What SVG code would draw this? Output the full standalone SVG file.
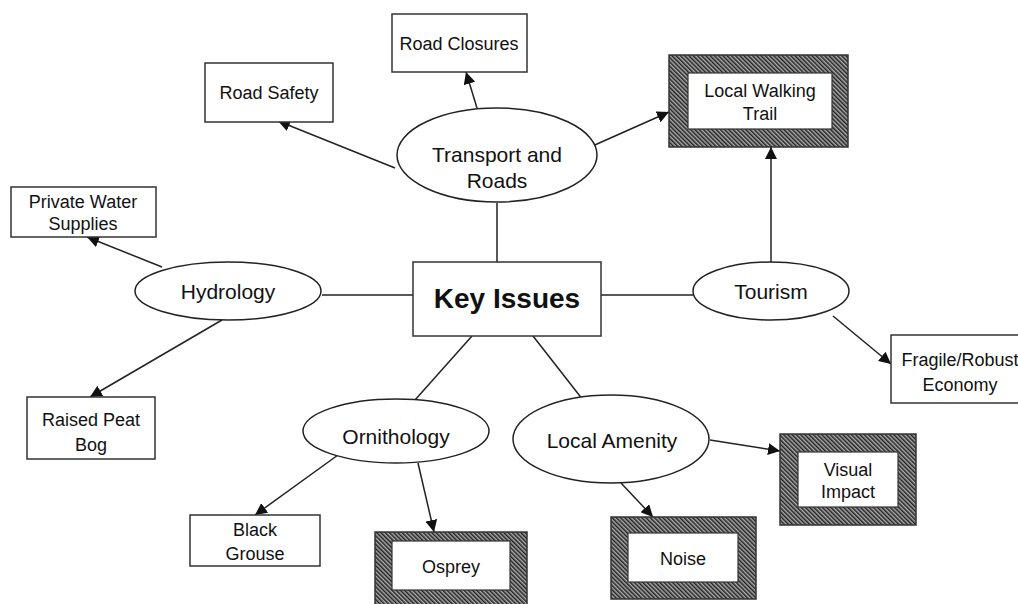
<svg xmlns="http://www.w3.org/2000/svg" width="1018" height="604" viewBox="0 0 1018 604">
<style>
.box{fill:#fff;stroke:#333;stroke-width:1.5}
.ell{fill:#fff;stroke:#222;stroke-width:1.5}
.hatch{fill:url(#hatch);stroke:#333;stroke-width:1.5}
.inner{fill:#fff;stroke:#333;stroke-width:1.2}
.t{font-family:"Liberation Sans",Arial,sans-serif;font-size:18px;fill:#111;text-anchor:middle}
.e{font-family:"Liberation Sans",Arial,sans-serif;font-size:21px;fill:#111;text-anchor:middle}
.k{font-family:"Liberation Sans",Arial,sans-serif;font-size:28px;font-weight:bold;fill:#111;text-anchor:middle}
.c{stroke:#222;stroke-width:1.5;fill:none}
.a{marker-end:url(#arr)}
</style>
<defs>
<pattern id="hatch" width="3" height="3" patternUnits="userSpaceOnUse" patternTransform="rotate(-45)">
<rect width="3" height="3" fill="#aaa"/>
<rect width="1.5" height="3" fill="#222"/>
</pattern>
<marker id="arr" viewBox="0 0 10 10" refX="10" refY="5" markerWidth="12" markerHeight="12" markerUnits="userSpaceOnUse" orient="auto">
<path d="M0,0 L10,5 L0,10 z" fill="#111"/>
</marker>
</defs>
<rect width="1018" height="604" fill="#fff"/>
<g id="connectors">
<line class="c" x1="497" y1="203" x2="497" y2="262"/>
<line class="c" x1="322" y1="295" x2="413" y2="295"/>
<line class="c" x1="601" y1="295" x2="693" y2="295"/>
<line class="c" x1="472" y1="336" x2="415" y2="400"/>
<line class="c" x1="533" y1="336" x2="583" y2="400"/>
<line class="c a" x1="395" y1="168" x2="278" y2="121"/>
<line class="c a" x1="477" y1="108" x2="466" y2="72"/>
<line class="c a" x1="588" y1="148" x2="669" y2="112"/>
<line class="c a" x1="162" y1="267" x2="87" y2="237"/>
<line class="c a" x1="222" y1="320" x2="90" y2="397"/>
<line class="c a" x1="771" y1="262" x2="771" y2="147"/>
<line class="c a" x1="833" y1="316" x2="891" y2="364"/>
<line class="c a" x1="338" y1="455" x2="255" y2="515"/>
<line class="c a" x1="418" y1="463" x2="434" y2="532"/>
<line class="c a" x1="621" y1="483" x2="653" y2="517"/>
<line class="c a" x1="710" y1="440" x2="780" y2="451"/>
</g>
<g id="key-issues">
<rect class="box" x="413" y="262" width="188" height="74"/>
<text class="k" x="507" y="308">Key Issues</text>
</g>
<g id="transport">
<ellipse class="ell" cx="497" cy="155" rx="100" ry="47"/>
<text class="e" x="497" y="162">Transport and</text>
<text class="e" x="497" y="188">Roads</text>
</g>
<g id="hydrology">
<ellipse class="ell" cx="228" cy="291" rx="93" ry="29"/>
<text class="e" x="228" y="299">Hydrology</text>
</g>
<g id="tourism">
<ellipse class="ell" cx="771" cy="291" rx="78" ry="29"/>
<text class="e" x="771" y="299">Tourism</text>
</g>
<g id="ornithology">
<ellipse class="ell" cx="396" cy="431" rx="93" ry="32"/>
<text class="e" x="396" y="444">Ornithology</text>
</g>
<g id="local-amenity">
<ellipse class="ell" cx="611" cy="439" rx="98" ry="44"/>
<text class="e" x="612" y="448">Local Amenity</text>
</g>
<g id="road-closures">
<rect class="box" x="392" y="14" width="135" height="58"/>
<text class="t" x="459" y="50">Road Closures</text>
</g>
<g id="road-safety">
<rect class="box" x="205" y="63" width="128" height="59"/>
<text class="t" x="269" y="99">Road Safety</text>
</g>
<g id="local-walking-trail">
<rect class="hatch" x="669" y="55" width="179" height="92"/>
<rect class="inner" x="688" y="73" width="144" height="56"/>
<text class="t" x="760" y="97">Local Walking</text>
<text class="t" x="760" y="120">Trail</text>
</g>
<g id="private-water">
<rect class="box" x="11" y="187" width="145" height="50"/>
<text class="t" x="83" y="208">Private Water</text>
<text class="t" x="83" y="230">Supplies</text>
</g>
<g id="raised-peat-bog">
<rect class="box" x="27" y="397" width="128" height="62"/>
<text class="t" x="91" y="426">Raised Peat</text>
<text class="t" x="91" y="451">Bog</text>
</g>
<g id="fragile">
<rect class="box" x="891" y="335" width="140" height="68"/>
<text class="t" x="960" y="366">Fragile/Robust</text>
<text class="t" x="960" y="391">Economy</text>
</g>
<g id="black-grouse">
<rect class="box" x="190" y="515" width="130" height="51"/>
<text class="t" x="255" y="536">Black</text>
<text class="t" x="255" y="560">Grouse</text>
</g>
<g id="osprey">
<rect class="hatch" x="375" y="532" width="152" height="76"/>
<rect class="inner" x="392" y="541" width="118" height="49"/>
<text class="t" x="451" y="573">Osprey</text>
</g>
<g id="noise">
<rect class="hatch" x="611" y="517" width="145" height="82"/>
<rect class="inner" x="628" y="533" width="110" height="49"/>
<text class="t" x="683" y="565">Noise</text>
</g>
<g id="visual-impact">
<rect class="hatch" x="780" y="434" width="136" height="91"/>
<rect class="inner" x="798" y="452" width="100" height="55"/>
<text class="t" x="848" y="476">Visual</text>
<text class="t" x="848" y="498">Impact</text>
</g>
</svg>
